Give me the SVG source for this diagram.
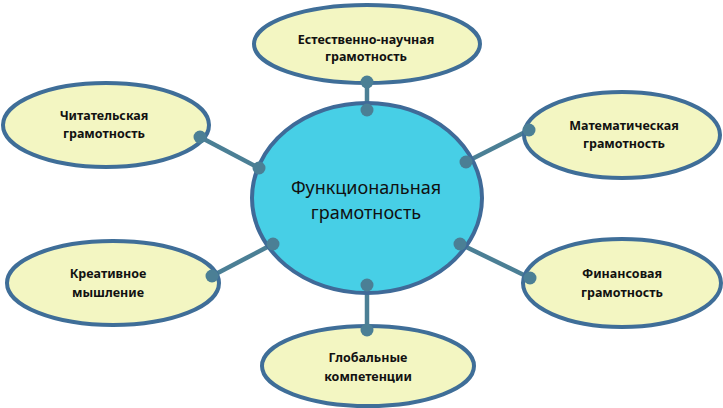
<svg xmlns="http://www.w3.org/2000/svg" width="723" height="408" viewBox="0 0 723 408">
<style>
.leaf{fill:#f3f6c2;stroke:#3f6e98;stroke-width:4}
.hub{fill:#47cfe6;stroke:#3f6a98;stroke-width:4}
.lbl{font-family:"Noto Sans","Open Sans",sans-serif;font-weight:bold;font-size:12.5px;fill:#111;text-anchor:middle}
.hubl{font-family:"Noto Sans","Open Sans",sans-serif;font-size:18px;fill:#111;text-anchor:middle}
.con line{stroke:#4b7f95;stroke-width:4.5}
.con circle{fill:#4b7f95}
</style>
<rect width="723" height="408" fill="#ffffff"/>
<g id="connectors" class="con">
<line x1="367" y1="82" x2="367" y2="110"/>
<line x1="200" y1="137" x2="259" y2="168"/>
<line x1="529" y1="130" x2="466" y2="162"/>
<line x1="212" y1="276" x2="273" y2="244"/>
<line x1="530" y1="278" x2="460" y2="244"/>
<line x1="367" y1="285" x2="367" y2="330"/>
</g>
<g id="n-top">
<ellipse class="leaf" cx="367" cy="44" rx="113" ry="39"/>
<text class="lbl" x="366" y="44">Естественно-научная</text>
<text class="lbl" x="366" y="61">грамотность</text>
</g>
<g id="n-read">
<ellipse class="leaf" cx="106" cy="125" rx="103" ry="42"/>
<text class="lbl" x="104" y="120">Читательская</text>
<text class="lbl" x="104" y="138">грамотность</text>
</g>
<g id="n-math">
<ellipse class="leaf" cx="622" cy="135" rx="98" ry="43"/>
<text class="lbl" x="624" y="130">Математическая</text>
<text class="lbl" x="624" y="148">грамотность</text>
</g>
<g id="n-creative">
<ellipse class="leaf" cx="113" cy="283" rx="106" ry="42"/>
<text class="lbl" x="108" y="278">Креативное</text>
<text class="lbl" x="108" y="297">мышление</text>
</g>
<g id="n-finance">
<ellipse class="leaf" cx="622" cy="283" rx="99" ry="44"/>
<text class="lbl" x="622" y="278">Финансовая</text>
<text class="lbl" x="622" y="297">грамотность</text>
</g>
<g id="n-global">
<ellipse class="leaf" cx="368" cy="366" rx="106" ry="40"/>
<text class="lbl" x="368" y="362">Глобальные</text>
<text class="lbl" x="368" y="381">компетенции</text>
</g>
<g id="hub">
<ellipse class="hub" cx="367" cy="198" rx="115" ry="95"/>
<text class="hubl" x="366" y="194">Функциональная</text>
<text class="hubl" x="366" y="219">грамотность</text>
</g>
<g id="dots" class="con">
<circle cx="367" cy="82" r="6.5"/>
<circle cx="367" cy="110" r="6.5"/>
<circle cx="200" cy="137" r="6.5"/>
<circle cx="259" cy="168" r="6.5"/>
<circle cx="529" cy="130" r="6.5"/>
<circle cx="466" cy="162" r="6.5"/>
<circle cx="212" cy="276" r="6.5"/>
<circle cx="273" cy="244" r="6.5"/>
<circle cx="530" cy="278" r="6.5"/>
<circle cx="460" cy="244" r="6.5"/>
<circle cx="367" cy="285" r="6.5"/>
<circle cx="367" cy="330" r="6.5"/>
</g>
</svg>
